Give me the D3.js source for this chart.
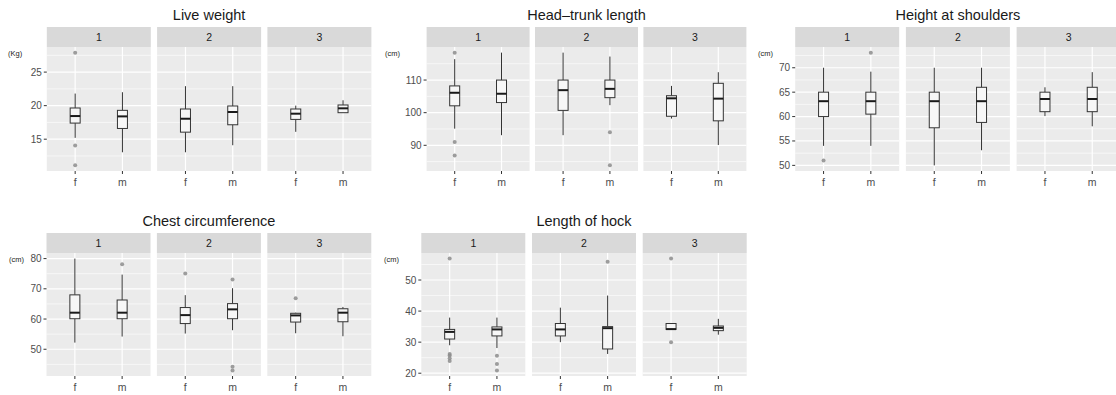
<!DOCTYPE html>
<html><head><meta charset="utf-8">
<script src="https://cdn.jsdelivr.net/npm/d3@7"></script>
<style>
body{margin:0;background:#fff;}
text{font-family:"Liberation Sans",Arial,sans-serif;}
</style></head>
<body><svg id="c" width="1116" height="395"></svg>
<script>
// ---------- DATA ----------
const facets = ["1", "2", "3"];
const sexes = ["f", "m"];
// each row: [facet, sex, lowerWhisker, Q1, median, Q3, upperWhisker]
const liveWeightBoxes = [
  ["1","f",15.2,17.4,18.45,19.65,21.8],
  ["1","m",13.05,16.6,18.4,19.3,22.0],
  ["2","f",13.05,16.05,18.05,19.5,22.9],
  ["2","m",14.1,17.15,19.05,19.95,22.9],
  ["3","f",16.1,17.95,18.8,19.5,20.0],
  ["3","m",18.95,18.95,19.6,20.1,20.8]
];
const liveWeightOutliers = [["1","f",27.9],["1","f",14.05],["1","f",11.1]];
const liveWeightTicks = [15, 20, 25];

const headTrunkBoxes = [
  ["1","f",95.1,102.1,106.1,108.2,116.4],
  ["1","m",93.1,103.1,105.8,110.0,118.4],
  ["2","f",93.1,100.7,106.9,110.0,118.4],
  ["2","m",102.3,104.6,107.3,110.0,117.2],
  ["3","f",98.2,98.9,104.4,105.2,108.2],
  ["3","m",90.1,97.5,104.3,109.0,112.4]
];
const headTrunkOutliers = [["1","f",118.4],["1","f",91.0],["1","f",86.9],["2","m",94.0],["2","m",83.85]];
const headTrunkTicks = [90, 100, 110];

const heightBoxes = [
  ["1","f",54.0,60.0,63.15,65.0,70.0],
  ["1","m",54.0,60.5,63.15,65.0,69.2],
  ["2","f",50.0,57.7,63.15,65.0,70.0],
  ["2","m",53.1,58.8,63.15,66.0,70.0],
  ["3","f",60.1,61.0,63.6,65.0,66.0],
  ["3","m",58.0,61.0,63.6,66.0,69.1]
];
const heightOutliers = [["1","f",51.0],["1","m",73.1]];
const heightTicks = [50, 55, 60, 65, 70];

const chestBoxes = [
  ["1","f",52.2,60.1,62.1,68.0,80.0],
  ["1","m",54.2,60.1,62.1,66.3,74.7],
  ["2","f",55.2,58.5,61.3,63.8,67.9],
  ["2","m",56.3,60.1,63.2,65.1,70.2],
  ["3","f",55.3,59.0,61.2,61.9,62.1],
  ["3","m",54.3,59.1,62.1,63.4,64.0]
];
const chestOutliers = [["1","m",78.1],["2","f",75.1],["2","m",73.1],["2","m",44.2],["2","m",43.0],["3","f",66.9]];
const chestTicks = [50, 60, 70, 80];

const hockBoxes = [
  ["1","f",29.0,31.0,33.3,34.1,37.9],
  ["1","m",28.1,32.0,34.1,34.9,37.9],
  ["2","f",30.0,32.0,34.1,36.0,41.1],
  ["2","m",26.2,27.8,34.5,35.0,45.0],
  ["3","f",34.1,34.1,34.2,36.0,36.0],
  ["3","m",32.4,33.7,34.6,35.2,37.5]
];
const hockOutliers = [["1","f",56.9],["1","f",26.2],["1","f",25.7],["1","f",24.8],["1","f",23.9],
  ["1","m",25.6],["1","m",23.0],["1","m",20.9],["2","m",55.9],["3","f",56.9],["3","f",30.0]];
const hockTicks = [20, 30, 40, 50];

const titles = ["Live weight", "Head\u2013trunk length", "Height at shoulders", "Chest circumference", "Length of hock"];
const units = ["(Kg)", "(cm)", "(cm)", "(cm)", "(cm)"];

// ---------- LAYOUT ----------
const rows = [
  {titleY: 20, stripTop: 27, panelTop: 47, panelBottom: 171},
  {titleY: 226, stripTop: 233, panelTop: 253, panelBottom: 376}
];
const panels = [
  {boxes: liveWeightBoxes, outliers: liveWeightOutliers, ticks: liveWeightTicks, row: 0, x0: 46.8, step: 110.3, w: 104, unitX: 8, unitY: 56},
  {boxes: headTrunkBoxes, outliers: headTrunkOutliers, ticks: headTrunkTicks, row: 0, x0: 426.6, step: 108.4, w: 103, unitX: 385, unitY: 56},
  {boxes: heightBoxes, outliers: heightOutliers, ticks: heightTicks, row: 0, x0: 795.2, step: 110.7, w: 104, unitX: 758, unitY: 56},
  {boxes: chestBoxes, outliers: chestOutliers, ticks: chestTicks, row: 1, x0: 46.5, step: 110.4, w: 104, unitX: 9, unitY: 262},
  {boxes: hockBoxes, outliers: hockOutliers, ticks: hockTicks, row: 1, x0: 421.3, step: 110.7, w: 104, unitX: 384, unitY: 262}
];

const svg = d3.select("#c");
const stripH = 20;

panels.forEach((p, i) => {
  const r = rows[p.row];
  const g = svg.append("g");
  // y domain with 5% expansion
  const vals = p.boxes.flatMap(b => [b[2], b[6]]).concat(p.outliers.map(o => o[2]));
  const mn = d3.min(vals), mx = d3.max(vals), ex = (mx - mn) * 0.05;
  const y = d3.scaleLinear().domain([mn - ex, mx + ex]).range([r.panelBottom, r.panelTop]);
  const stepT = p.ticks[1] - p.ticks[0];
  const minor = [];
  for (let t = p.ticks[0] - stepT / 2; t <= mx + ex; t += stepT) if (t >= mn - ex) minor.push(t);

  // title
  const fx = d3.scaleBand().domain(facets).range([p.x0, p.x0 + p.step * 3]).paddingInner(0);
  const xCenter = (p.x0 + p.x0 + p.step * 2 + p.w) / 2;
  g.append("text").attr("x", xCenter).attr("y", r.titleY).attr("text-anchor", "middle")
    .attr("font-size", 14.5).attr("fill", "#1a1a1a").text(titles[i]);

  facets.forEach((f, fi) => {
    const fx0 = fx(f);
    const x = d3.scalePoint().domain(sexes).range([fx0, fx0 + p.w]).padding(0.6 / 0.9 * 0.9 / 1.0);
    // manual discrete scale: positions at 1,2 over [0.4,2.6]
    const xd = d3.scaleLinear().domain([0.4, 2.6]).range([fx0, fx0 + p.w]);
    const xs = s => xd(sexes.indexOf(s) + 1);
    // strip
    g.append("rect").attr("x", fx0).attr("y", r.stripTop).attr("width", p.w).attr("height", stripH).attr("fill", "#d9d9d9");
    g.append("text").attr("x", fx0 + p.w / 2).attr("y", r.stripTop + 14).attr("text-anchor", "middle")
      .attr("font-size", 10.5).attr("fill", "#1a1a1a").text(f);
    // panel bg
    g.append("rect").attr("x", fx0).attr("y", r.panelTop).attr("width", p.w).attr("height", r.panelBottom - r.panelTop).attr("fill", "#ebebeb");
    // minor grid
    g.selectAll(null).data(minor).enter().append("line")
      .attr("x1", fx0).attr("x2", fx0 + p.w).attr("y1", d => y(d)).attr("y2", d => y(d))
      .attr("stroke", "#fff").attr("stroke-width", 0.6);
    // major grid
    g.selectAll(null).data(p.ticks).enter().append("line")
      .attr("x1", fx0).attr("x2", fx0 + p.w).attr("y1", d => y(d)).attr("y2", d => y(d))
      .attr("stroke", "#fff").attr("stroke-width", 1.2);
    g.selectAll(null).data(sexes).enter().append("line")
      .attr("x1", d => xs(d)).attr("x2", d => xs(d)).attr("y1", r.panelTop).attr("y2", r.panelBottom)
      .attr("stroke", "#fff").attr("stroke-width", 1.2);
    // x axis
    const xa = g.append("g");
    sexes.forEach(s => {
      xa.append("line").attr("x1", xs(s)).attr("x2", xs(s)).attr("y1", r.panelBottom).attr("y2", r.panelBottom + 3)
        .attr("stroke", "#333").attr("stroke-width", 1);
      xa.append("text").attr("x", xs(s)).attr("y", r.panelBottom + 15).attr("text-anchor", "middle")
        .attr("font-size", 10.5).attr("fill", "#4d4d4d").text(s);
    });
    // boxes
    const bw = 10;
    p.boxes.filter(b => b[0] === f).forEach(b => {
      const cx = xs(b[1]);
      g.append("line").attr("x1", cx).attr("x2", cx).attr("y1", y(b[6])).attr("y2", y(b[5])).attr("stroke", "#333").attr("stroke-width", 1);
      g.append("line").attr("x1", cx).attr("x2", cx).attr("y1", y(b[3])).attr("y2", y(b[2])).attr("stroke", "#333").attr("stroke-width", 1);
      g.append("rect").attr("x", cx - bw / 2).attr("y", y(b[5])).attr("width", bw).attr("height", Math.max(0.5, y(b[3]) - y(b[5])))
        .attr("fill", "#f7f7f7").attr("stroke", "#333").attr("stroke-width", 1);
      g.append("line").attr("x1", cx - bw / 2).attr("x2", cx + bw / 2).attr("y1", y(b[4])).attr("y2", y(b[4]))
        .attr("stroke", "#1a1a1a").attr("stroke-width", 2);
    });
    g.selectAll(null).data(p.outliers.filter(o => o[0] === f)).enter().append("circle")
      .attr("cx", d => xs(d[1])).attr("cy", d => y(d[2])).attr("r", 2)
      .attr("fill", "#8c8c8c").attr("fill-opacity", 0.85);
  });

  // y axis
  const ya = g.append("g");
  p.ticks.forEach(t => {
    ya.append("line").attr("x1", p.x0 - 3).attr("x2", p.x0).attr("y1", y(t)).attr("y2", y(t)).attr("stroke", "#333").attr("stroke-width", 1);
    ya.append("text").attr("x", p.x0 - 5).attr("y", y(t)).attr("dy", "0.35em").attr("text-anchor", "end")
      .attr("font-size", 10).attr("fill", "#4d4d4d").text(t);
  });
  g.append("text").attr("x", p.unitX).attr("y", p.unitY).attr("font-size", 7.5).attr("fill", "#1a1a1a").text(units[i]);
});
</script></body></html>
